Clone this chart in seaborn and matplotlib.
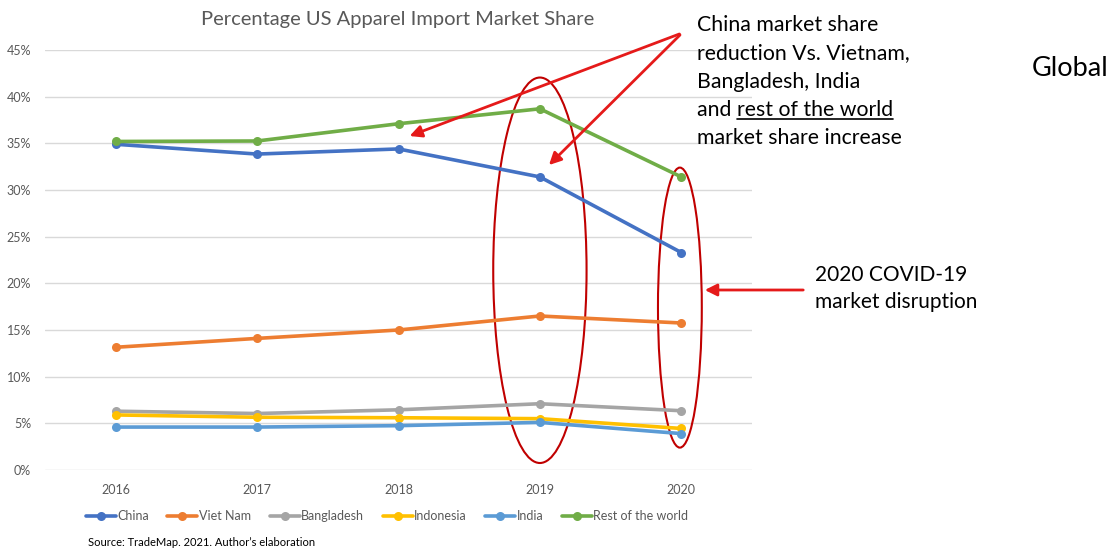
import matplotlib
matplotlib.use("Agg")
import matplotlib.pyplot as plt
from matplotlib.patches import Ellipse
from matplotlib.lines import Line2D
from matplotlib.ticker import PercentFormatter
import pandas as pd
import seaborn as sns

years = [2016, 2017, 2018, 2019, 2020]
china = [34.9, 33.85, 34.4, 31.4, 23.3]
viet_nam = [13.15, 14.1, 15.0, 16.5, 15.75]
bangladesh = [6.3, 6.05, 6.45, 7.1, 6.35]
indonesia = [5.9, 5.65, 5.6, 5.5, 4.45]
india = [4.6, 4.6, 4.75, 5.1, 3.9]
rest_of_world = [35.2, 35.25, 37.1, 38.7, 31.4]

series_names = ["China", "Viet Nam", "Bangladesh", "Indonesia", "India", "Rest of the world"]
series_values = [china, viet_nam, bangladesh, indonesia, india, rest_of_world]
colors = ["#4472C4", "#ED7D31", "#A5A5A5", "#FFC000", "#5B9BD5", "#70AD47"]

df = pd.DataFrame(
    [(y, name, v) for name, vals in zip(series_names, series_values) for y, v in zip(years, vals)],
    columns=["year", "country", "share"],
)

sns.set_theme(style="white")
plt.rcParams["font.family"] = ["Lato", "DejaVu Sans"]

W, H = 1115, 548
fig = plt.figure(figsize=(W / 100, H / 100), dpi=100)
ax = fig.add_axes([45 / W, 1 - 470 / H, (752 - 45) / W, 420 / H])

sns.lineplot(
    data=df, x="year", y="share", hue="country", hue_order=series_names,
    palette=colors, marker="o", markersize=6.5, markeredgewidth=0,
    linewidth=2.6, ax=ax, legend=False,
)

ax.set_xlim(2015.5, 2020.5)
ax.set_ylim(0, 45)
ax.set_yticks(range(0, 50, 5))
ax.set_xticks(years)
ax.yaxis.set_major_formatter(PercentFormatter(decimals=0))
ax.grid(axis="y", color="#D9D9D9", linewidth=1)
ax.grid(axis="x", visible=False)
for s in ax.spines.values():
    s.set_visible(False)
ax.tick_params(axis="both", length=0, labelsize=9, colors="#595959")
ax.tick_params(axis="x", pad=10)
ax.tick_params(axis="y", pad=10)
ax.set_xlabel("")
ax.set_ylabel("")

# legend below the plot
handles = [Line2D([0], [0], color=c, lw=2.6, marker="o", markersize=6.5, markeredgewidth=0)
           for c in colors]
leg = fig.legend(handles, series_names, loc="center", bbox_to_anchor=(387 / W, 1 - 516 / H),
                 ncol=6, frameon=False, fontsize=9, handlelength=2.4, handletextpad=0.1,
                 columnspacing=1.5)
for t in leg.get_texts():
    t.set_color("#595959")

fig.text(398 / W, 1 - 19 / H, "Percentage US Apparel Import Market Share",
         ha="center", va="center", fontsize=14.5, color="#595959")
fig.text(88 / W, 1 - 543 / H, "Source: TradeMap. 2021. Author\u2019s elaboration",
         ha="left", va="center", fontsize=8, color="black")

# highlight ellipses around 2019 and 2020
ax.add_patch(Ellipse((2019, 21.4), 0.66, 41.3, fill=False, edgecolor="#C00000", lw=1.5, clip_on=False))
ax.add_patch(Ellipse((2019.99, 17.4), 0.31, 30.0, fill=False, edgecolor="#C00000", lw=1.5, clip_on=False))

arrow_style = dict(arrowstyle="-|>,head_length=0.6,head_width=0.3", color="#E51A1A", lw=2)
for tip in [(407, 137), (547, 167)]:
    ax.annotate("", xy=(tip[0], H - tip[1]), xycoords="figure pixels",
                xytext=(682, H - 33), textcoords="figure pixels",
                arrowprops=arrow_style, annotation_clip=False)
ax.annotate("", xy=(702, H - 290), xycoords="figure pixels",
            xytext=(806, H - 290), textcoords="figure pixels",
            arrowprops=arrow_style, annotation_clip=False)

# side notes
note_size = 15.3
note_lines = ["China market share", "reduction Vs. Vietnam,", "Bangladesh, India"]
y0 = 25
for i, line in enumerate(note_lines):
    fig.text(697 / W, 1 - (y0 + i * 28.3) / H, line, ha="left", va="center",
             fontsize=note_size, color="black")
t_and = fig.text(697 / W, 1 - (y0 + 3 * 28.3) / H, "and ", ha="left", va="center",
                 fontsize=note_size, color="black")
fig.canvas.draw()
bb = t_and.get_window_extent()
t_rest = fig.text(bb.x1 / W, 1 - (y0 + 3 * 28.3) / H, "rest of the world", ha="left",
                  va="center", fontsize=note_size, color="black")
fig.canvas.draw()
rb = t_rest.get_window_extent()
fig.add_artist(Line2D([rb.x0 / W, rb.x1 / W], [1 - 119 / H, 1 - 119 / H],
                      color="black", lw=1.2))
fig.text(697 / W, 1 - (y0 + 4 * 28.3) / H, "market share increase", ha="left", va="center",
         fontsize=note_size, color="black")

fig.text(1032 / W, 1 - 68 / H, "Global", ha="left", va="center", fontsize=19.5, color="black")
fig.text(815 / W, 1 - 275 / H, "2020 COVID-19", ha="left", va="center", fontsize=15, color="black")
fig.text(815 / W, 1 - 302 / H, "market disruption", ha="left", va="center", fontsize=15, color="black")

fig.savefig("out.png", dpi=100, facecolor="white")
